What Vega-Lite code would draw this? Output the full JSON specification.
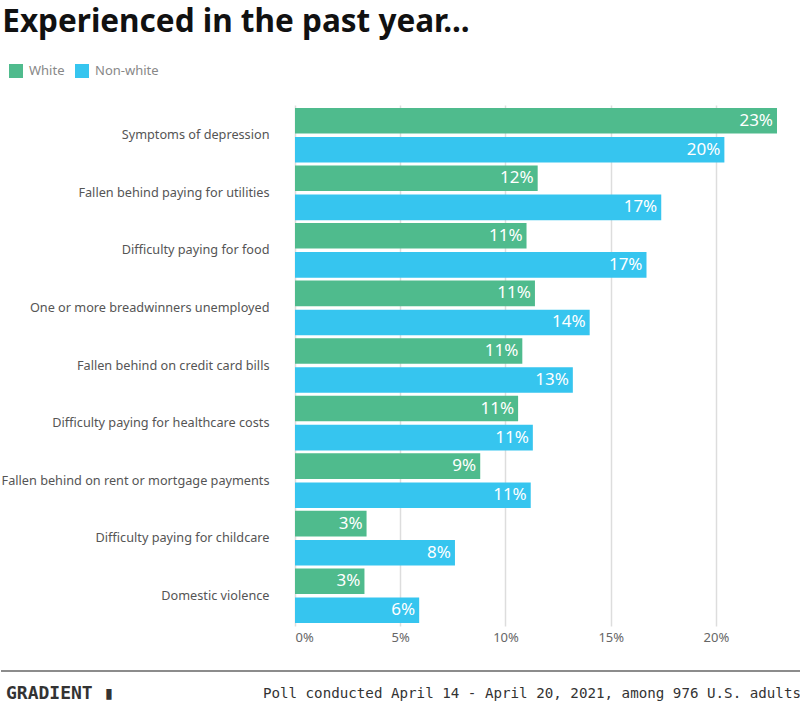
{
  "$schema": "https://vega.github.io/schema/vega-lite/v6.json",
  "padding": {"top": 6, "left": 0, "right": 0, "bottom": 0},
  "background": "white",
  "title": {"text": "Experienced in the past year...", "anchor": "start", "font": "Noto Sans", "fontSize": 31.5, "fontWeight": "bold", "color": "#111111", "offset": 26, "dx": 2},
  "config": {"view": {"stroke": null}, "font": "Noto Sans"},
  "spacing": 26,
  "vconcat": [
    {
      "width": 482,
      "height": 521,
      "data": {"values": [
        {"item": "Symptoms of depression", "group": "White", "value": 0.229},
        {"item": "Symptoms of depression", "group": "Non-white", "value": 0.204},
        {"item": "Fallen behind paying for utilities", "group": "White", "value": 0.1153},
        {"item": "Fallen behind paying for utilities", "group": "Non-white", "value": 0.174},
        {"item": "Difficulty paying for food", "group": "White", "value": 0.110},
        {"item": "Difficulty paying for food", "group": "Non-white", "value": 0.167},
        {"item": "One or more breadwinners unemployed", "group": "White", "value": 0.114},
        {"item": "One or more breadwinners unemployed", "group": "Non-white", "value": 0.140},
        {"item": "Fallen behind on credit card bills", "group": "White", "value": 0.108},
        {"item": "Fallen behind on credit card bills", "group": "Non-white", "value": 0.132},
        {"item": "Difficulty paying for healthcare costs", "group": "White", "value": 0.106},
        {"item": "Difficulty paying for healthcare costs", "group": "Non-white", "value": 0.113},
        {"item": "Fallen behind on rent or mortgage payments", "group": "White", "value": 0.088},
        {"item": "Fallen behind on rent or mortgage payments", "group": "Non-white", "value": 0.112},
        {"item": "Difficulty paying for childcare", "group": "White", "value": 0.034},
        {"item": "Difficulty paying for childcare", "group": "Non-white", "value": 0.076},
        {"item": "Domestic violence", "group": "White", "value": 0.033},
        {"item": "Domestic violence", "group": "Non-white", "value": 0.059}
      ]},
      "encoding": {
        "y": {"field": "item", "type": "nominal",
          "sort": ["Symptoms of depression", "Fallen behind paying for utilities", "Difficulty paying for food", "One or more breadwinners unemployed", "Fallen behind on credit card bills", "Difficulty paying for healthcare costs", "Fallen behind on rent or mortgage payments", "Difficulty paying for childcare", "Domestic violence"],
          "scale": {"paddingInner": 0.05, "paddingOuter": 0.05},
          "axis": {"title": null, "ticks": false, "domain": false, "labelFontSize": 12.7, "labelColor": "#555555", "labelPadding": 26, "labelLimit": 320, "minExtent": 294, "maxExtent": 294}},
        "yOffset": {"field": "group", "type": "nominal", "sort": ["White", "Non-white"], "scale": {"paddingInner": 0.12}},
        "x": {"field": "value", "type": "quantitative", "scale": {"domain": [0, 0.229], "nice": false},
          "axis": {"title": null, "format": ".0%", "values": [0, 0.05, 0.1, 0.15, 0.2], "domain": false, "ticks": false, "grid": true, "gridColor": "#dddddd", "gridWidth": 1.5, "labelFontSize": 13, "labelColor": "#666666", "labelPadding": 5}}
      },
      "layer": [
        {
          "mark": {"type": "bar"},
          "encoding": {
            "color": {"field": "group", "type": "nominal",
              "scale": {"domain": ["White", "Non-white"], "range": ["#4fbb8d", "#36c5ef"]},
              "legend": {"orient": "none", "legendX": -286, "legendY": -41, "direction": "horizontal", "title": null, "symbolType": "square", "symbolSize": 196, "symbolStrokeWidth": 0, "labelFontSize": 13, "labelColor": "#888888", "labelOffset": 6, "columnPadding": 10}}
          }
        },
        {
          "mark": {"type": "text", "align": "right", "baseline": "middle", "dx": -4, "color": "white", "fontSize": 17, "font": "Noto Sans"},
          "encoding": {"text": {"field": "value", "type": "quantitative", "format": ".0%"}}
        }
      ]
    },
    {
      "width": 506,
      "height": 34,
      "data": {"values": [
        {"kind": "rule", "x": 0, "x2": 1, "y": 1},
        {"kind": "logo", "label": "GRADIENT ▮", "x": 0, "y": 0},
        {"kind": "note", "label": "Poll conducted April 14 - April 20, 2021, among 976 U.S. adults", "x": 1, "y": 0}
      ]},
      "encoding": {
        "x": {"field": "x", "type": "quantitative", "scale": {"domain": [0, 1], "range": [-294, 506]}, "axis": null},
        "y": {"field": "y", "type": "quantitative", "scale": {"domain": [-0.5, 1]}, "axis": null}
      },
      "layer": [
        {"transform": [{"filter": "datum.kind === 'rule'"}], "mark": {"type": "rule", "color": "#666666", "strokeWidth": 1.5}, "encoding": {"x2": {"field": "x2"}}},
        {"transform": [{"filter": "datum.kind === 'logo'"}], "mark": {"type": "text", "align": "left", "baseline": "middle", "font": "DejaVu Sans Mono", "fontWeight": "bold", "fontSize": 18, "color": "#333333", "dx": 5}, "encoding": {"text": {"field": "label"}}},
        {"transform": [{"filter": "datum.kind === 'note'"}], "mark": {"type": "text", "align": "right", "baseline": "middle", "font": "DejaVu Sans Mono", "fontSize": 14.2, "color": "#333333"}, "encoding": {"text": {"field": "label"}}}
      ]
    }
  ]
}
